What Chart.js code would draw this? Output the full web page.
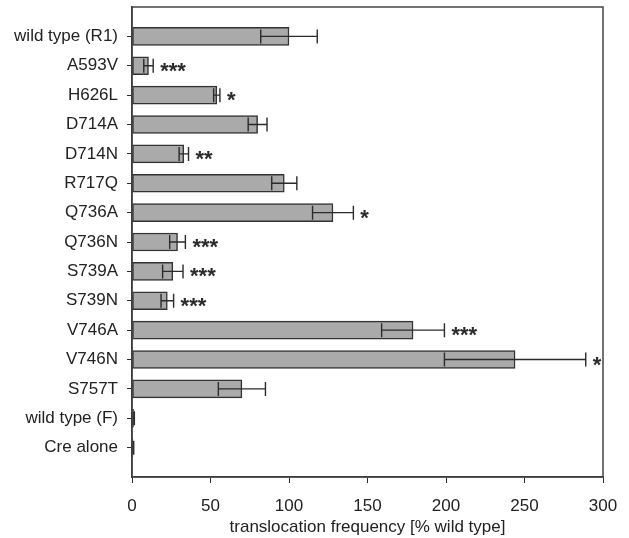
<!DOCTYPE html>
<html>
<head>
<meta charset="utf-8">
<script src="https://cdn.jsdelivr.net/npm/chart.js@4"></script>
<style>
  html, body { margin: 0; padding: 0; background: #fff; }
  #wrap { width: 629px; height: 538px; }
</style>
</head>
<body>
<div id="wrap"><canvas id="chart"></canvas></div>
<script>
// données
const labels = ["wild type (R1)", "A593V", "H626L", "D714A", "D714N", "R717Q", "Q736A",
  "Q736N", "S739A", "S739N", "V746A", "V746N", "S757T", "wild type (F)", "Cre alone"];
const values = [100, 10.5, 54, 80, 33, 97, 128, 29, 26, 22.5, 179, 244, 70, 1, 0.6];
const errors = [18, 3, 2, 6, 3, 8, 13, 5, 6.5, 4, 20, 45, 15, 0.5, 0.5];
const stars = ["", "***", "*", "", "**", "", "*", "***", "***", "***", "***", "*", "", "", ""];
const xTicks = [0, 50, 100, 150, 200, 250, 300];

// une case vide en haut et en bas, comme sur la figure
const padLabels = [""].concat(labels, [""]);
const padValues = [null].concat(values, [null]);

const ink = "#2b2b2b";
const font = { family: "'Liberation Sans', Arial, sans-serif", size: 17 };

// barres d'erreur, astérisques et cadre
const extras = {
  id: "extras",
  afterDatasetsDraw(chart) {
    const ctx = chart.ctx;
    const x = chart.scales.x;
    const y = chart.scales.y;
    ctx.save();
    ctx.strokeStyle = ink;
    ctx.lineWidth = 1.4;
    values.forEach((v, i) => {
      const yc = y.getPixelForValue(i + 1);
      const x0 = x.getPixelForValue(Math.max(0, v - errors[i]));
      const x1 = x.getPixelForValue(v + errors[i]);
      ctx.beginPath();
      ctx.moveTo(x0, yc);
      ctx.lineTo(x1, yc);
      ctx.moveTo(x0, yc - 7);
      ctx.lineTo(x0, yc + 7);
      ctx.moveTo(x1, yc - 7);
      ctx.lineTo(x1, yc + 7);
      ctx.stroke();
      if (stars[i]) {
        ctx.fillStyle = ink;
        ctx.font = "bold 22px 'Liberation Sans', Arial, sans-serif";
        ctx.textAlign = "left";
        ctx.textBaseline = "alphabetic";
        ctx.fillText(stars[i], x1 + 7, yc + 12);
      }
    });
    const a = chart.chartArea;
    ctx.lineWidth = 1.5;
    ctx.strokeStyle = "#444";
    ctx.strokeRect(a.left, a.top, a.right - a.left, a.bottom - a.top);
    ctx.restore();
  }
};

new Chart(document.getElementById("chart"), {
  type: "bar",
  data: {
    labels: padLabels,
    datasets: [
      {
        data: padValues,
        backgroundColor: "#aaaaaa",
        borderColor: "#333",
        borderWidth: 1.5,
        borderSkipped: false,
        barThickness: 18,
      },
    ],
  },
  options: {
    indexAxis: "y",
    responsive: true,
    maintainAspectRatio: false,
    animation: false,
    layout: { padding: { top: 7, right: 26, bottom: 0, left: 0 } },
    plugins: {
      legend: { display: false },
      tooltip: { enabled: false },
    },
    scales: {
      x: {
        min: 0,
        max: 300,
        afterBuildTicks: (s) => { s.ticks = xTicks.map((v) => ({ value: v })); },
        afterFit: (s) => { s.height = 61; s.paddingLeft = 0; s.paddingRight = 0; },
        grid: { drawOnChartArea: false, drawTicks: true, tickLength: 6, color: ink },
        border: { display: true, color: ink, width: 1.5 },
        ticks: { color: "#222", font: font, padding: 13, maxRotation: 0 },
        title: {
          display: true,
          text: "translocation frequency [% wild type]",
          color: "#222",
          font: font,
          padding: { top: 0, bottom: 0 },
        },
      },
      y: {
        offset: false,
        afterFit: (s) => { s.width = 132; s.paddingTop = 0; s.paddingBottom = 0; },
        grid: {
          offset: false,
          drawOnChartArea: false,
          drawTicks: true,
          tickLength: 5,
          color: (c) => (c.index === 0 || c.index === padLabels.length - 1 ? "rgba(0,0,0,0)" : ink),
        },
        border: { display: true, color: ink, width: 1.5 },
        ticks: { color: "#222", font: font, padding: 9, autoSkip: false },
      },
    },
  },
  plugins: [extras],
});
</script>
</body>
</html>
